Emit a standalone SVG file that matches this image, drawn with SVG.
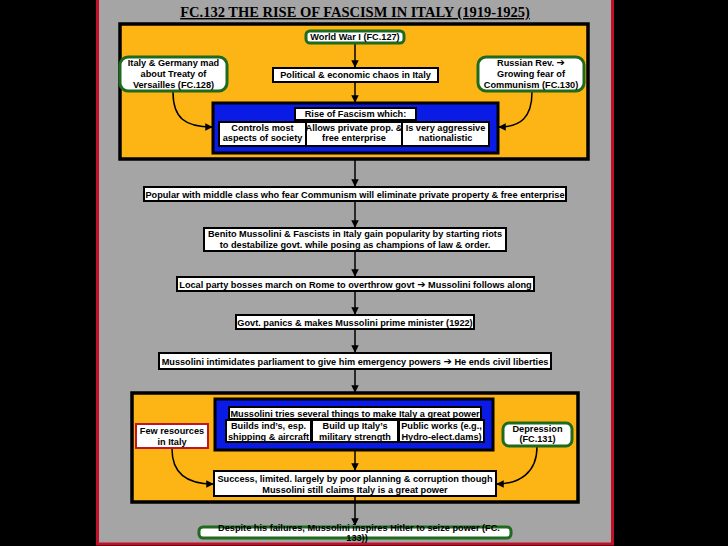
<svg xmlns="http://www.w3.org/2000/svg" width="728" height="546" viewBox="0 0 728 546">
<defs>
<marker id="ah" viewBox="0 0 10 10" refX="9" refY="5" markerWidth="5" markerHeight="5" orient="auto"><path d="M0,0 L10,5 L0,10 z" fill="#000"/></marker>
<style>
text{font-family:"Liberation Sans",Arial,sans-serif;font-weight:bold;font-size:9.2px;fill:#000;text-anchor:middle}
.title{font-family:"Liberation Serif","Times New Roman",serif;font-size:14.5px;text-decoration:underline}
.arr{font-family:"DejaVu Sans",sans-serif;font-size:10px}
.box{fill:#fff;stroke:#000;stroke-width:2}
.gbox{fill:#fff;stroke:#1f6a1f;stroke-width:3}
.rbox{fill:#fff;stroke:#c0142a;stroke-width:2}
.org{fill:#fdb515;stroke:#000;stroke-width:3.5}
.blu{fill:#0b1be6;stroke:#000;stroke-width:3}
.con{fill:none;stroke:#000;stroke-width:1.5;marker-end:url(#ah)}
</style>
</defs>
<rect width="728" height="546" fill="#000"/>
<rect x="97.5" y="-3" width="515" height="547" fill="#a5a5a5" stroke="#c0102a" stroke-width="3"/>
<text class="title" x="355" y="17">FC.132 THE RISE OF FASCISM IN ITALY (1919-1925)</text>

<g id="frame-top"><rect class="org" x="120" y="24" width="468" height="135"/></g>
<g id="frame-bottom"><rect class="org" x="132" y="393" width="446" height="109"/></g>

<g id="connectors">
<line class="con" x1="355" y1="44" x2="355" y2="67"/>
<line class="con" x1="355" y1="83" x2="355" y2="102"/>
<path class="con" d="M173,92 C173,118 185,127 212,127"/>
<path class="con" d="M532,92 C532,118 520,127 499,127"/>
<line class="con" x1="355" y1="160" x2="355" y2="186"/>
<line class="con" x1="355" y1="202" x2="355" y2="227"/>
<line class="con" x1="355" y1="252" x2="355" y2="276"/>
<line class="con" x1="355" y1="292" x2="355" y2="314"/>
<line class="con" x1="355" y1="330" x2="355" y2="352"/>
<line class="con" x1="355" y1="370" x2="355" y2="392"/>
<line class="con" x1="355" y1="451" x2="355" y2="470"/>
<path class="con" d="M172,449 C172,472 185,484 213,484"/>
<path class="con" d="M537,447 C537,472 520,484 497,484"/>
<line class="con" x1="355" y1="497" x2="355" y2="525"/>
</g>

<g id="wwi"><rect class="gbox" x="306" y="31" width="98" height="12" rx="4"/><text x="355" y="40">World War I (FC.127)</text></g>
<g id="chaos"><rect class="box" x="273" y="68" width="165" height="14"/><text x="355.5" y="78">Political &amp; economic chaos in Italy</text></g>
<g id="versailles"><rect class="gbox" x="120" y="57" width="107" height="34" rx="8"/><text x="173.5" y="66">Italy &amp; Germany mad</text><text x="173.5" y="77">about Treaty of</text><text x="173.5" y="88">Versailles (FC.128)</text></g>
<g id="russian"><rect class="gbox" x="478" y="57" width="106" height="34" rx="8"/><text x="531" y="66">Russian Rev. <tspan class="arr">➔</tspan></text><text x="531" y="77">Growing fear of</text><text x="531" y="88">Communism (FC.130)</text></g>

<g id="fascism">
<rect class="blu" x="213" y="103" width="285" height="50"/>
<rect class="box" x="295" y="108" width="121" height="12"/><text x="355.5" y="117">Rise of Fascism which:</text>
<rect class="box" x="219" y="122" width="87" height="24"/><text x="262.5" y="131">Controls most</text><text x="262.5" y="141">aspects of society</text>
<rect class="box" x="306" y="122" width="96" height="24"/><text x="354" y="131">Allows private prop. &amp;</text><text x="354" y="141">free enterprise</text>
<rect class="box" x="402" y="122" width="87" height="24"/><text x="445.5" y="131">Is very aggressive</text><text x="445.5" y="141">nationalistic</text>
</g>

<g id="popular"><rect class="box" x="144" y="187" width="422" height="14"/><text x="355" y="197.5">Popular with middle class who fear Communism will eliminate private property &amp; free enterprise</text></g>
<g id="benito"><rect class="box" x="204" y="228" width="302" height="23"/><text x="355" y="236.5">Benito Mussolini &amp; Fascists in Italy gain popularity by starting riots</text><text x="355" y="247.5">to destabilize govt. while posing as champions of law &amp; order.</text></g>
<g id="rome"><rect class="box" x="177" y="277" width="357" height="14"/><text x="355.5" y="287.5">Local party bosses march on Rome to overthrow govt <tspan class="arr">➔</tspan> Mussolini follows along</text></g>
<g id="pm"><rect class="box" x="236" y="315" width="238" height="14"/><text x="355" y="325.5">Govt. panics &amp; makes Mussolini prime minister (1922)</text></g>
<g id="powers"><rect class="box" x="159" y="353" width="392" height="16"/><text x="355" y="364.5">Mussolini intimidates parliament to give him emergency powers <tspan class="arr">➔</tspan> He ends civil liberties</text></g>

<g id="tries">
<rect class="blu" x="215" y="399" width="278" height="51"/>
<rect class="box" x="229" y="407" width="252" height="12"/><text x="355" y="416.5">Mussolini tries several things to make Italy a great power</text>
<rect class="box" x="226" y="420" width="85" height="22"/><text x="268.5" y="429">Builds ind’s, esp.</text><text x="268.5" y="440">shipping &amp; aircraft</text>
<rect class="box" x="312" y="420" width="86" height="22"/><text x="355" y="429">Build up Italy’s</text><text x="355" y="440">military strength</text>
<rect class="box" x="399" y="420" width="85" height="22"/><text x="441.5" y="429">Public works (e.g.,</text><text x="441.5" y="440">Hydro-elect.dams)</text>
</g>

<g id="resources"><rect class="rbox" x="136" y="424" width="72" height="24"/><text x="172" y="434">Few resources</text><text x="172" y="445">in Italy</text></g>
<g id="depression"><rect class="gbox" x="503" y="423" width="69" height="23" rx="6"/><text x="537.5" y="432">Depression</text><text x="537.5" y="442">(FC.131)</text></g>
<g id="success"><rect class="box" x="214" y="471" width="282" height="25"/><text x="355" y="482">Success, limited. largely by poor planning &amp; corruption though</text><text x="355" y="493">Mussolini still claims Italy is a great power</text></g>
<g id="hitler"><rect class="gbox" x="199" y="527" width="312" height="11" rx="4"/><text x="359" y="530.5">Despite his failures, Mussolini inspires Hitler to seize power (FC.</text><text x="357" y="541">133))</text></g>
</svg>
